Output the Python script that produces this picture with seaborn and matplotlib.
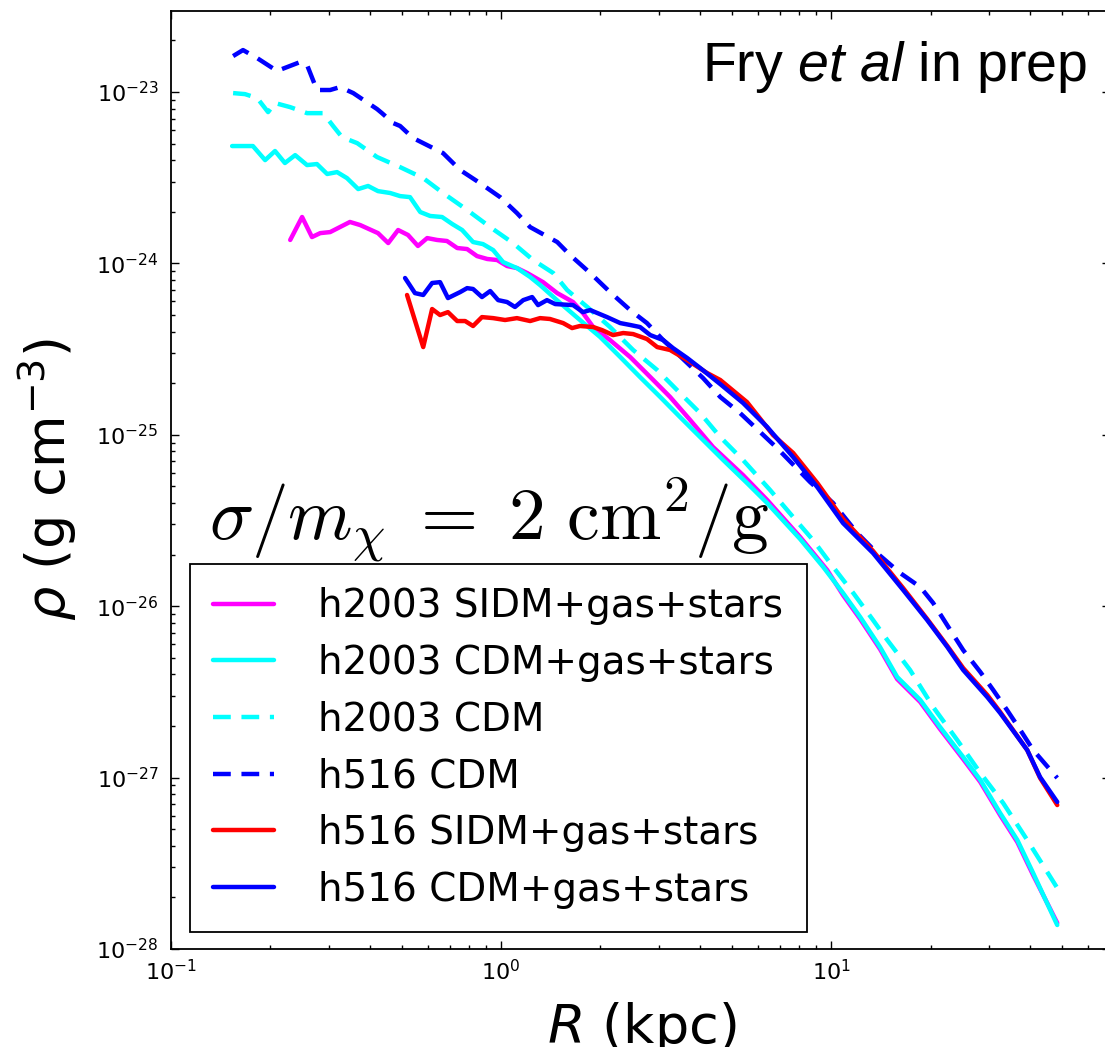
import numpy as np
import pandas as pd
import matplotlib
matplotlib.use("Agg")
import matplotlib.pyplot as plt
import seaborn as sns
from matplotlib.lines import Line2D

# ---------------- data (log10 R [kpc], log10 rho [g cm^-3]) ----------------
labels = ["h2003 SIDM+gas+stars", "h2003 CDM+gas+stars", "h2003 CDM",
          "h516 CDM", "h516 SIDM+gas+stars", "h516 CDM+gas+stars"]

h2003_sidm_logR = [-0.639, -0.603, -0.573, -0.548, -0.518, -0.458, -0.427, -0.373, -0.342, -0.312,
                   -0.282, -0.252, -0.224, -0.194, -0.164, -0.133, -0.103, -0.073, -0.042, -0.012,
                   0.018, 0.048, 0.079, 0.127, 0.170, 0.218, 0.248, 0.279, 0.330, 0.391,
                   0.452, 0.512, 0.573, 0.642, 0.733, 0.806, 0.906, 0.988, 1.036, 1.088,
                   1.148, 1.200, 1.270, 1.330, 1.400, 1.452, 1.512, 1.564, 1.612, 1.685]
h2003_sidm_logrho = [-23.863, -23.729, -23.846, -23.823, -23.817, -23.758, -23.776, -23.823, -23.881, -23.805,
                     -23.834, -23.898, -23.852, -23.863, -23.869, -23.910, -23.916, -23.957, -23.974, -23.980,
                     -24.015, -24.027, -24.056, -24.109, -24.173, -24.225, -24.289, -24.371, -24.447, -24.546,
                     -24.663, -24.779, -24.914, -25.071, -25.235, -25.380, -25.596, -25.789, -25.935, -26.075,
                     -26.250, -26.425, -26.559, -26.717, -26.892, -27.026, -27.219, -27.376, -27.569, -27.848]

h2003_cdmgas_logR = [-0.815, -0.752, -0.715, -0.685, -0.655, -0.624, -0.588, -0.558, -0.527, -0.497,
                     -0.467, -0.433, -0.403, -0.373, -0.336, -0.306, -0.276, -0.245, -0.215, -0.179,
                     -0.148, -0.118, -0.085, -0.055, -0.024, 0.006, 0.048, 0.088, 0.118, 0.179,
                     0.239, 0.300, 0.361, 0.421, 0.482, 0.542, 0.603, 0.673, 0.745, 0.806,
                     0.906, 0.976, 1.036, 1.088, 1.148, 1.200, 1.270, 1.330, 1.400, 1.452,
                     1.512, 1.564, 1.612, 1.685]
h2003_cdmgas_logrho = [-23.315, -23.315, -23.397, -23.344, -23.414, -23.368, -23.426, -23.420, -23.478, -23.467,
                       -23.502, -23.566, -23.548, -23.578, -23.589, -23.607, -23.613, -23.700, -23.723, -23.729,
                       -23.770, -23.805, -23.875, -23.887, -23.922, -23.992, -24.027, -24.079, -24.126, -24.231,
                       -24.330, -24.429, -24.546, -24.663, -24.779, -24.896, -25.013, -25.147, -25.281, -25.398,
                       -25.608, -25.771, -25.923, -26.063, -26.238, -26.413, -26.547, -26.705, -26.880, -27.014,
                       -27.207, -27.364, -27.557, -27.860]

h2003_cdm_logR = [-0.812, -0.776, -0.739, -0.706, -0.685, -0.639, -0.588, -0.539, -0.509, -0.482,
                  -0.436, -0.376, -0.306, -0.236, -0.176, -0.103, -0.033, 0.036, 0.097, 0.158,
                  0.200, 0.261, 0.330, 0.400, 0.473, 0.542, 0.603, 0.664, 0.733, 0.815,
                  0.885, 0.945, 1.006, 1.067, 1.127, 1.170, 1.239, 1.309, 1.382, 1.452,
                  1.521, 1.594, 1.685]
h2003_cdm_logrho = [-23.006, -23.012, -23.035, -23.117, -23.064, -23.088, -23.123, -23.123, -23.198, -23.263,
                    -23.298, -23.379, -23.438, -23.502, -23.589, -23.688, -23.788, -23.881, -23.980, -24.056,
                    -24.155, -24.254, -24.371, -24.505, -24.622, -24.756, -24.873, -25.013, -25.147, -25.322,
                    -25.480, -25.614, -25.771, -25.923, -26.081, -26.197, -26.372, -26.588, -26.781, -26.973,
                    -27.148, -27.364, -27.644]

h516_cdm_logR = [-0.812, -0.782, -0.739, -0.679, -0.609, -0.588, -0.558, -0.518, -0.488, -0.448,
                 -0.376, -0.361, -0.327, -0.306, -0.267, -0.176, -0.124, -0.064, -0.003, 0.048,
                 0.088, 0.170, 0.209, 0.270, 0.330, 0.391, 0.442, 0.491, 0.564, 0.612,
                 0.664, 0.724, 0.785, 0.836, 0.936, 1.006, 1.079, 1.139, 1.209, 1.270,
                 1.309, 1.361, 1.400, 1.452, 1.491, 1.533, 1.573, 1.612, 1.685]
h516_cdm_logrho = [-22.790, -22.755, -22.802, -22.877, -22.825, -22.842, -22.988, -22.988, -22.971, -23.006,
                   -23.099, -23.123, -23.181, -23.198, -23.268, -23.356, -23.455, -23.531, -23.613, -23.706,
                   -23.788, -23.875, -23.951, -24.056, -24.167, -24.272, -24.348, -24.447, -24.581, -24.669,
                   -24.779, -24.873, -24.984, -25.077, -25.275, -25.398, -25.573, -25.690, -25.806, -25.888,
                   -25.981, -26.139, -26.256, -26.384, -26.489, -26.606, -26.722, -26.839, -27.002]

h516_sidm_logR = [-0.285, -0.236, -0.209, -0.185, -0.161, -0.133, -0.109, -0.085, -0.058, -0.024,
                  0.012, 0.048, 0.088, 0.118, 0.148, 0.188, 0.215, 0.239, 0.279, 0.306,
                  0.339, 0.370, 0.400, 0.442, 0.473, 0.512, 0.564, 0.624, 0.664, 0.745,
                  0.824, 0.885, 0.958, 1.036, 1.127, 1.218, 1.291, 1.352, 1.400, 1.473,
                  1.512, 1.594, 1.633, 1.685]
h516_sidm_logrho = [-24.184, -24.488, -24.266, -24.301, -24.284, -24.336, -24.336, -24.365, -24.313, -24.319,
                    -24.330, -24.319, -24.336, -24.319, -24.324, -24.348, -24.377, -24.365, -24.371, -24.389,
                    -24.418, -24.406, -24.412, -24.441, -24.488, -24.505, -24.564, -24.639, -24.680, -24.809,
                    -25.001, -25.106, -25.281, -25.491, -25.678, -25.894, -26.075, -26.232, -26.361, -26.518,
                    -26.617, -26.839, -27.002, -27.160]

h516_cdmgas_logR = [-0.291, -0.261, -0.236, -0.209, -0.185, -0.161, -0.124, -0.103, -0.085, -0.058,
                    -0.033, -0.009, 0.018, 0.042, 0.067, 0.094, 0.112, 0.139, 0.164, 0.218,
                    0.248, 0.270, 0.321, 0.361, 0.391, 0.421, 0.452, 0.491, 0.521, 0.564,
                    0.603, 0.664, 0.733, 0.806, 0.885, 0.958, 1.036, 1.127, 1.218, 1.291,
                    1.352, 1.400, 1.473, 1.512, 1.594, 1.633, 1.685]
h516_cdmgas_logrho = [-24.085, -24.173, -24.184, -24.114, -24.109, -24.202, -24.167, -24.144, -24.149, -24.196,
                      -24.161, -24.214, -24.225, -24.254, -24.214, -24.196, -24.243, -24.214, -24.237, -24.243,
                      -24.284, -24.272, -24.313, -24.348, -24.359, -24.371, -24.418, -24.447, -24.494, -24.552,
                      -24.610, -24.704, -24.814, -24.954, -25.130, -25.305, -25.515, -25.690, -25.905, -26.081,
                      -26.238, -26.372, -26.530, -26.623, -26.839, -26.997, -27.142]

series_data = {
    labels[0]: (h2003_sidm_logR, h2003_sidm_logrho),
    labels[1]: (h2003_cdmgas_logR, h2003_cdmgas_logrho),
    labels[2]: (h2003_cdm_logR, h2003_cdm_logrho),
    labels[3]: (h516_cdm_logR, h516_cdm_logrho),
    labels[4]: (h516_sidm_logR, h516_sidm_logrho),
    labels[5]: (h516_cdmgas_logR, h516_cdmgas_logrho),
}
colors = ["#FF00FF", "#00FFFF", "#00FFFF", "#0000FF", "#FF0000", "#0000FF"]
dashed = [False, False, True, True, False, False]

frames = []
for lab in labels:
    lr, lrho = series_data[lab]
    frames.append(pd.DataFrame({"series": lab,
                                "R": 10.0 ** np.asarray(lr),
                                "rho": 10.0 ** np.asarray(lrho)}))
df = pd.concat(frames, ignore_index=True)

# ---------------- style ----------------
sns.set_style("ticks")
plt.rcParams["font.family"] = ["DejaVu Sans"]
plt.rcParams["axes.unicode_minus"] = False
plt.rcParams["mathtext.fontset"] = "dejavusans"
plt.rcParams["mathtext.rm"] = "Liberation Sans"
plt.rcParams["mathtext.it"] = "Liberation Sans:italic"
for k in ["text.color", "axes.labelcolor", "xtick.color", "ytick.color", "axes.edgecolor"]:
    plt.rcParams[k] = "black"

LW = 3.2
DASH = (4.0, 2.4)
palette = dict(zip(labels, colors))
dash_map = {lab: (DASH if d else "") for lab, d in zip(labels, dashed)}

fig = plt.figure(figsize=(11.05, 10.47), dpi=100)
ax = fig.add_axes([0.1548, 0.0936, 0.8498, 0.8959])
ax.set_xscale("log")
ax.set_yscale("log")

sns.lineplot(data=df, x="R", y="rho", hue="series", style="series",
             hue_order=labels, style_order=labels, palette=palette, dashes=dash_map,
             sort=False, estimator=None, lw=LW, legend=False, ax=ax)

ax.set_xlim(0.1, 70)
ax.set_ylim(1e-28, 10 ** -22.527)

ax.tick_params(which="both", direction="in", top=True, right=True, width=1, colors="black")
ax.tick_params(which="major", length=5.8, labelsize=16)
ax.tick_params(axis="x", which="major", pad=7)
ax.tick_params(axis="y", which="major", pad=9)
ax.tick_params(which="minor", length=3.1)
for sp in ax.spines.values():
    sp.set_linewidth(1.3)
    sp.set_color("black")

ax.set_xlabel(r"$R$ (kpc)", fontsize=39)
ax.set_ylabel(r"$\rho$ (g cm$^{-3}$)", fontsize=39)
ax.xaxis.set_label_coords(0.501, -0.054)
ax.yaxis.set_label_coords(-0.098, 0.5)

ax.text(0.04, 0.436, r"$\sigma/m_\chi\;=\;2\ \mathrm{cm}^2/\mathrm{g}$",
        transform=ax.transAxes, fontsize=53, math_fontfamily="cm", va="baseline",
        zorder=6)
ax.text(0.9755, 0.925, r"Fry $\mathit{et\ al}$ in prep", transform=ax.transAxes,
        family="Liberation Sans", fontsize=40, math_fontfamily="custom",
        ha="right", va="baseline")

handles = []
for c, d in zip(colors, dashed):
    h = Line2D([], [], color=c, lw=LW)
    if d:
        h.set_dashes(DASH)
    handles.append(h)
leg = ax.legend(handles, labels, loc="lower left", bbox_to_anchor=(0.0202, 0.0181),
                borderaxespad=0, fontsize=28, frameon=True, fancybox=False,
                edgecolor="black", framealpha=1, handlelength=1.55, handletextpad=1.15,
                labelspacing=0.48, borderpad=0.6)
leg.get_frame().set_linewidth(1.3)

fig.savefig("out.png", dpi=100)
